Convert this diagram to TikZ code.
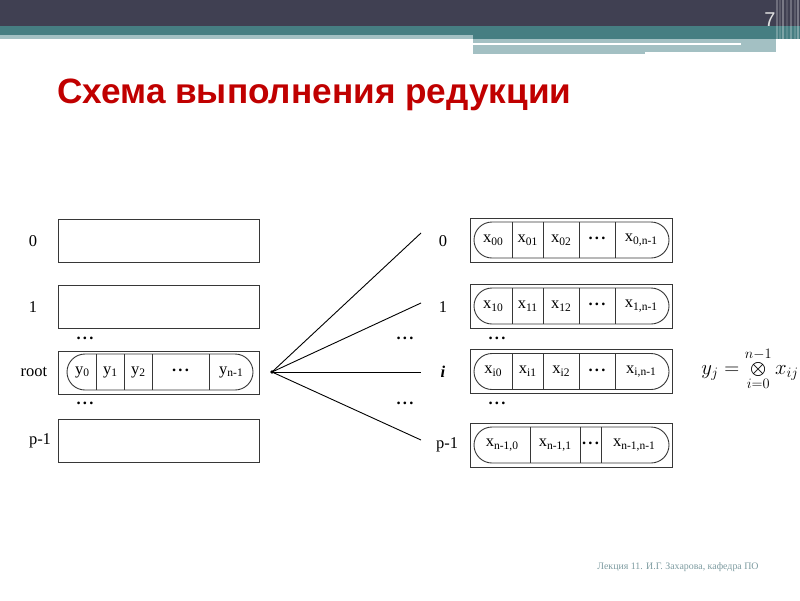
\documentclass[tikz,border=0pt]{standalone}
\usepackage{fontspec}
\setmainfont{Liberation Serif}
\newfontfamily\titlefont{Liberation Sans}
\usetikzlibrary{shapes.misc}
\definecolor{hdark}{RGB}{64,64,82}
\definecolor{hteal}{RGB}{70,126,130}
\definecolor{hlight}{RGB}{163,192,195}
\definecolor{ttlred}{RGB}{192,0,0}
\definecolor{foot}{RGB}{125,155,160}
\definecolor{ink}{RGB}{55,55,55}
\newcommand\sbx[1]{\raisebox{-0.35ex}{\fontsize{11.5}{11.5}\selectfont #1}}
\newcommand\cdts{\raisebox{0.45ex}{\textbf{.\hspace{2.2pt}.\hspace{2.2pt}.}}}
\begin{document}
\begin{tikzpicture}[x=1pt,y=-1pt,
  box/.style={draw=ink, line width=0.9pt, minimum width=201pt, minimum height=43pt, inner sep=0pt},
  caps/.style={draw=ink, line width=0.9pt, rounded rectangle, minimum height=36pt, inner sep=0pt},
  lbl/.style={font=\fontsize{16.5}{16.5}\selectfont, inner sep=0pt},
  cell/.style={font=\fontsize{16.5}{16.5}\selectfont, inner sep=0pt},
  dv/.style={draw=ink, line width=0.9pt},
  fanl/.style={draw=black, line width=0.9pt}]
\useasboundingbox (0,0) rectangle (800,600);
% header
\fill[hdark] (0,0) rectangle (800,26);
\fill[hteal] (0,26) rectangle (473,35);
\fill[hlight] (0,35) rectangle (473,39);
\fill[hteal] (473,26) rectangle (800,39);
\fill[hlight] (473,39) rectangle (776,54);
\fill[white] (473,43) rectangle (741,45);
\fill[white] (645,52) rectangle (776,54);
\foreach \xx/\oo in {776/0.25,779/0.15,782/0.3,786/0.12,790/0.25,794/0.15,797/0.3}
  \fill[white, opacity=\oo] (\xx,0) rectangle ++(2,56);
\node[text=white!88!black, font=\titlefont\fontsize{20}{20}\selectfont] (num) at (770,20) {7};
% title
\node[anchor=base west, text=ttlred, font=\titlefont\bfseries\fontsize{35.2}{35.2}\selectfont, inner sep=0pt] (title) at (57,103) {Схема выполнения редукции};
% left boxes
\node[box] (L0) at (158.5,240.5) {};
\node[box] (L1) at (158.5,306.5) {};
\node[box] (Lr) at (158.5,372.5) {};
\node[box] (Lp) at (158.5,440.5) {};
\node[lbl] (tl0) at (33,241) {0};
\node[lbl] (tl1) at (33,307) {1};
\node[lbl] (tlr) at (34,372) {root};
\node[lbl] (tlp) at (40,441) {p-1};
\node[lbl] (dl1) at (85,340) {\cdts};
\node[lbl] (dl2) at (85,405) {\cdts};
% root capsule
\node[caps, minimum width=186pt] (Cr) at (160,372) {};
\foreach \xx in {96,124,152,209} \draw[dv] (\xx,354) -- (\xx,390);
\node[cell] at (82,372) {y\sbx{0}};
\node[cell] at (110,372) {y\sbx{1}};
\node[cell] at (138,372) {y\sbx{2}};
\node[cell] at (180.5,372) {\cdts};
\node[cell] at (231,372) {y\sbx{n-1}};
% fan
\coordinate (fan) at (272,372);
\coordinate (e0) at (421,233);
\coordinate (e1) at (421,303);
\coordinate (e2) at (421,372);
\coordinate (e3) at (421,440);
\fill (fan) circle (1.8);
\foreach \e in {e0,e1,e2,e3} \draw[fanl] (fan) -- (\e);
\node[lbl] (dm1) at (405,340) {\cdts};
\node[lbl] (dm2) at (405,405) {\cdts};
% right labels
\node[lbl] (tr0) at (443,241) {0};
\node[lbl] (tr1) at (443,307) {1};
\node[lbl] (tri) at (443,372) {\textit{\textbf{i}}};
\node[lbl] (trp) at (447,445) {p-1};
\node[lbl] (dr1) at (497,340) {\cdts};
\node[lbl] (dr2) at (497,405) {\cdts};
% right boxes
\node[box, minimum width=202pt, minimum height=44pt] (R0) at (571,240) {};
\node[box, minimum width=202pt, minimum height=44pt] (R1) at (571,306) {};
\node[box, minimum width=202pt, minimum height=44pt] (Ri) at (571,371.5) {};
\node[box, minimum width=202pt, minimum height=44pt] (Rp) at (571,445) {};
\node[caps, minimum width=195pt] (C0) at (571.5,240) {};
\node[caps, minimum width=195pt] (C1) at (571.5,306) {};
\node[caps, minimum width=195pt] (Ci) at (571.5,371.5) {};
\node[caps, minimum width=195pt] (Cp) at (571.5,445) {};
\foreach \yy in {240,306,371.5}
  \foreach \xx in {512,543,579,615} \draw[dv] (\xx,\yy-18) -- (\xx,\yy+18);
\foreach \xx in {530,580,601} \draw[dv] (\xx,427) -- (\xx,463);
\node[cell] at (493,240) {x\sbx{00}};
\node[cell] at (527.5,240) {x\sbx{01}};
\node[cell] at (561,240) {x\sbx{02}};
\node[cell] at (597,240) {\cdts};
\node[cell] at (641,240) {x\sbx{0,n-1}};
\node[cell] at (493,306) {x\sbx{10}};
\node[cell] at (527.5,306) {x\sbx{11}};
\node[cell] at (561,306) {x\sbx{12}};
\node[cell] at (597,306) {\cdts};
\node[cell] at (641,306) {x\sbx{1,n-1}};
\node[cell] at (493,371.5) {x\sbx{i0}};
\node[cell] at (527.5,371.5) {x\sbx{i1}};
\node[cell] at (561,371.5) {x\sbx{i2}};
\node[cell] at (597,371.5) {\cdts};
\node[cell] at (641,371.5) {x\sbx{i,n-1}};
\node[cell] at (502,445) {x\sbx{n-1,0}};
\node[cell] at (555,445) {x\sbx{n-1,1}};
\node[cell] at (590.5,445) {\cdts};
\node[cell] at (634,445) {x\sbx{n-1,n-1}};
% formula
\node[font=\fontsize{20}{20}\selectfont, inner sep=0pt] (form) at (750,369) {$\displaystyle y_j = \bigotimes_{i=0}^{n-1} x_{ij}$};
% footer
\node[text=foot, font=\fontsize{9.9}{9.9}\selectfont, inner sep=0pt] (foot) at (678,567) {Лекция 11. И.Г. Захарова, кафедра ПО};
\end{tikzpicture}
\end{document}
